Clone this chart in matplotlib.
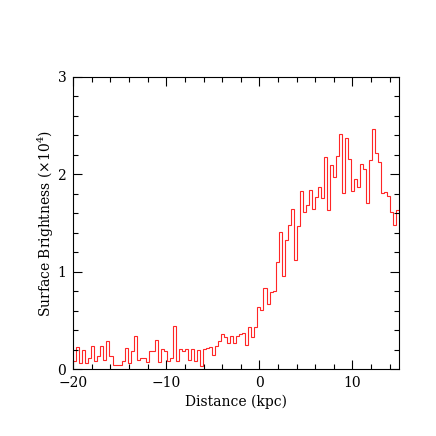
import matplotlib
matplotlib.use("Agg")
import matplotlib.pyplot as plt
import numpy as np

# radial profile, values in units of 1e4, bins of ~0.325 kpc starting at -20 kpc
x_start = -20.0
bin_width = 0.3245
brightness = [
    0.085, 0.225, 0.06, 0.20, 0.06, 0.12, 0.24, 0.09, 0.135, 0.24,
    0.10, 0.29, 0.135, 0.045, 0.045, 0.045, 0.09, 0.215, 0.06, 0.185,
    0.34, 0.095, 0.12, 0.12, 0.07, 0.185, 0.185, 0.30, 0.07, 0.205,
    0.185, 0.08, 0.116, 0.444, 0.08, 0.21, 0.185, 0.21, 0.10, 0.21,
    0.08, 0.20, 0.03, 0.21, 0.22, 0.23, 0.147, 0.24, 0.287, 0.362,
    0.328, 0.267, 0.342, 0.267, 0.342, 0.36, 0.37, 0.25, 0.43, 0.328,
    0.435, 0.64, 0.61, 0.83, 0.67, 0.79, 0.80, 1.10, 1.41, 0.96,
    1.33, 1.48, 1.64, 1.12, 1.47, 1.83, 1.61, 1.68, 1.84, 1.64,
    1.77, 1.87, 1.76, 2.18, 1.63, 2.10, 1.97, 2.19, 2.41, 1.81,
    2.37, 2.16, 1.83, 1.95, 1.87, 2.11, 2.05, 1.71, 2.15, 2.46,
    2.22, 2.13, 1.81, 1.82, 1.78, 1.61, 1.48, 1.63,
]

edges = x_start + bin_width * np.arange(len(brightness) + 1)

plt.rcParams['font.family'] = 'DejaVu Serif'
plt.rcParams['mathtext.fontset'] = 'dejavuserif'

fig = plt.figure(figsize=(4.36, 4.36), dpi=100)
ax = fig.add_axes([0.168, 0.153, 0.747, 0.671])

ax.stairs(brightness, edges, color='red', linewidth=0.8, alpha=0.85, baseline=None)

ax.set_xlim(-20, 15)
ax.set_ylim(0, 3)
ax.set_xticks([-20, -10, 0, 10])
ax.set_yticks([0, 1, 2, 3])
ax.set_xticks(np.arange(-20, 15.1, 2), minor=True)
ax.set_yticks(np.arange(0, 3.01, 0.2), minor=True)
ax.tick_params(which='both', direction='in', top=True, right=True, labelsize=10, pad=5)
ax.tick_params(which='major', length=6.5, width=0.8)
ax.tick_params(which='minor', length=3.6, width=0.8)
for s in ax.spines.values():
    s.set_linewidth(0.8)

ax.set_xlabel('Distance (kpc)', fontsize=10, labelpad=3)
ax.set_ylabel(r'Surface Brightness ($\times$10$^4$)', fontsize=10, labelpad=1)

fig.savefig('out.png', dpi=100)
